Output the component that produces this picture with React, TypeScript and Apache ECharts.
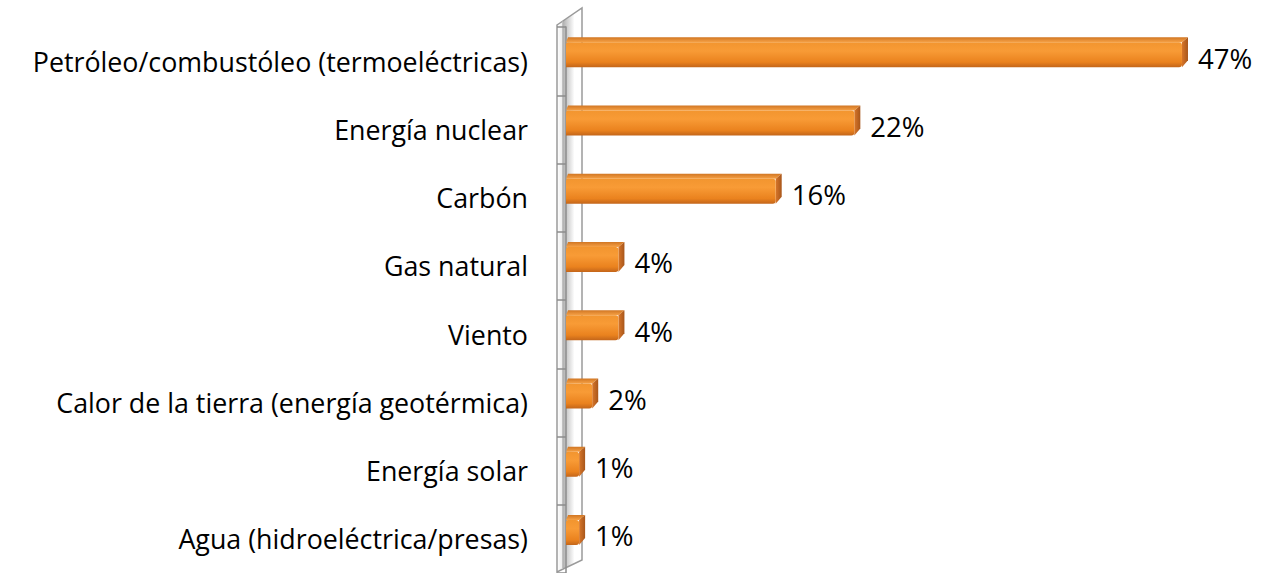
import React, { useEffect, useRef } from "react";
import * as echarts from "echarts";

const categories = [
  "Petróleo/combustóleo (termoeléctricas)",
  "Energía nuclear",
  "Carbón",
  "Gas natural",
  "Viento",
  "Calor de la tierra (energía geotérmica)",
  "Energía solar",
  "Agua (hidroeléctrica/presas)",
];
const values = [47, 22, 16, 4, 4, 2, 1, 1];

const FONT = "Open Sans";

export default function App() {
  const ref = useRef<HTMLDivElement>(null);
  useEffect(() => {
    const chart = echarts.init(ref.current!, null, { renderer: "svg" });
    const data = values.map((v, i) => [v, i]);
    const option: any = {
      animation: false,
      grid: { left: 566, top: 27, height: 549, right: 46.7 },
      xAxis: { type: "value", min: 0, max: 50, show: false },
      yAxis: {
        type: "category",
        data: categories,
        inverse: true,
        offset: 9,
        axisLine: { show: true, lineStyle: { color: "#8c8c8c", width: 1.5 } },
        axisTick: { show: true, length: 9, lineStyle: { color: "#8c8c8c", width: 1.5 } },
        axisLabel: { margin: 29, color: "#000", fontFamily: FONT, fontSize: 26.8 },
        splitLine: { show: false },
      },
      graphic: [
        {
          type: "polygon",
          z: 0,
          shape: { points: [[557, 25], [582, 8], [582, 560], [557, 572]] },
          style: {
            fill: new echarts.graphic.LinearGradient(0, 0, 1, 0, [
              { offset: 0, color: "#ffffff" },
              { offset: 0.18, color: "#f0f0f0" },
              { offset: 0.22, color: "#adadad" },
              { offset: 0.36, color: "#c6c6c6" },
              { offset: 0.7, color: "#ffffff" },
              { offset: 1, color: "#ffffff" },
            ]),
            stroke: "#9a9a9a",
            lineWidth: 1.5,
          },
        },
        {
          type: "line",
          z: 0,
          shape: { x1: 562.5, y1: 21.5, x2: 562.5, y2: 569 },
          style: { stroke: "#c0c0c0", lineWidth: 1 },
        },
      ],
      series: [
        {
          type: "custom",
          z: 5,
          data,
          encode: { x: 0, y: 1 },
          renderItem: (params: any, api: any) => {
            const v = api.value(0);
            const i = api.value(1);
            const end = api.coord([v, i]);
            const start = api.coord([0, i]);
            const c = end[1];
            const x0 = start[0];
            const xe = end[0];
            const d = 6;
            const dy = 5;
            const top = c - 19;
            const bot = c + 6;
            return {
              type: "group",
              children: [
                {
                  type: "polygon",
                  shape: {
                    points: [
                      [x0, top],
                      [xe, top],
                      [xe + d, top - dy],
                      [x0 + 2, top - dy],
                    ],
                  },
                  style: {
                    fill: new echarts.graphic.LinearGradient(0, 0, 0, 1, [
                      { offset: 0, color: "#d07522" },
                      { offset: 1, color: "#f5a045" },
                    ]),
                  },
                },
                {
                  type: "polygon",
                  shape: {
                    points: [
                      [xe, top],
                      [xe + d, top - dy],
                      [xe + d, bot - dy - 2],
                      [xe, bot],
                    ],
                  },
                  style: {
                    fill: new echarts.graphic.LinearGradient(0, 0, 1, 0, [
                      { offset: 0, color: "#d7762a" },
                      { offset: 1, color: "#a8561a" },
                    ]),
                  },
                },
                {
                  type: "rect",
                  shape: { x: x0, y: top, width: xe - x0, height: bot - top, r: [2, 3, 3, 0] },
                  style: {
                    fill: new echarts.graphic.LinearGradient(0, 0, 0, 1, [
                      { offset: 0, color: "#f2952f" },
                      { offset: 0.35, color: "#f89b36" },
                      { offset: 0.8, color: "#ea821e" },
                      { offset: 1, color: "#c4661a" },
                    ]),
                  },
                },
                {
                  type: "text",
                  style: {
                    x: xe + 16,
                    y: c - 3,
                    text: v + "%",
                    fill: "#000",
                    fontFamily: FONT,
                    fontSize: 27.5,
                    verticalAlign: "middle",
                    align: "left",
                  },
                },
              ],
            };
          },
        },
      ],
    };
    chart.setOption(option);
    return () => chart.dispose();
  }, []);
  return (
    <div
      ref={ref}
      style={{ position: "fixed", left: 0, top: 0, width: 1268, height: 573, background: "#fff" }}
    />
  );
}
